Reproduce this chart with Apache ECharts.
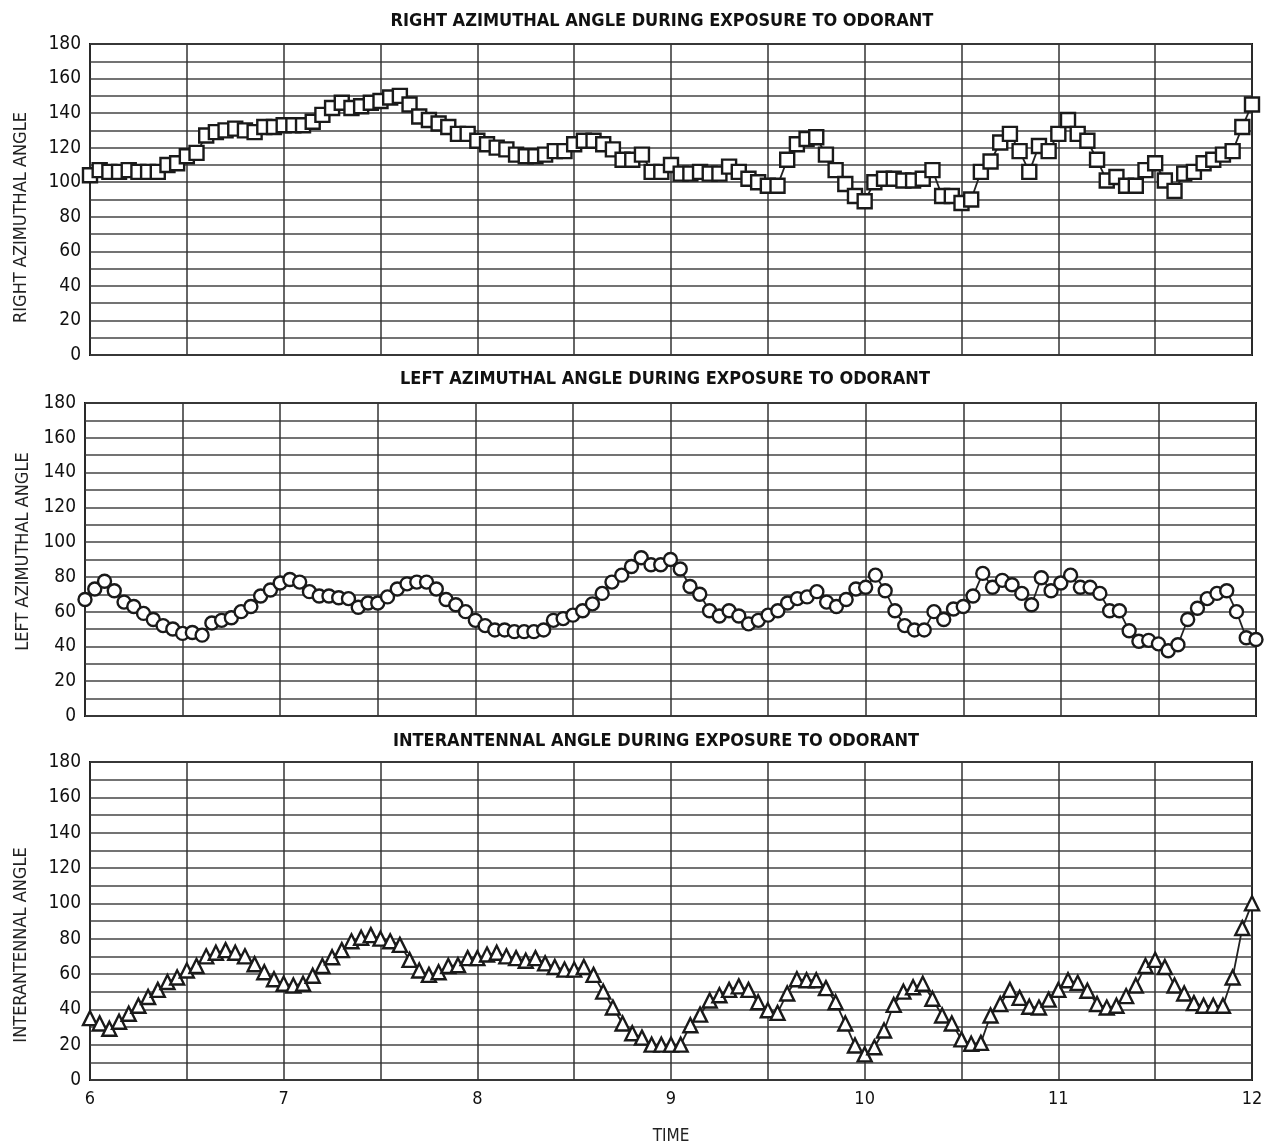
<!DOCTYPE html>
<html><head><meta charset="utf-8">
<script src="https://cdn.jsdelivr.net/npm/echarts@6/dist/echarts.min.js"></script>
<style>html,body{margin:0;padding:0;background:#fff}#c{width:1268px;height:1148px}</style>
</head><body><div id="c"></div><script>
const TIME_START = 6, TIME_STEP = 0.05;
const rightAzimuth = [
  104, 107, 106, 106, 107, 106, 106, 106, 110, 111,
  115, 117, 127, 129, 130, 131, 130, 129, 132, 132,
  133, 133, 133, 135, 139, 143, 146, 143, 144, 146,
  147, 149, 150, 145, 138, 136, 134, 132, 128, 128,
  124, 122, 120, 119, 116, 115, 115, 116, 118, 118,
  122, 124, 124, 122, 119, 113, 113, 116, 106, 106,
  110,
  105, 105, 106, 105, 105, 109, 106, 102, 100, 98,
  98, 113, 122, 125, 126, 116, 107, 99, 92, 89,
  100, 102, 102, 101, 101, 102, 107, 92, 92, 88,
  90, 106, 112, 123, 128, 118, 106, 121, 118, 128,
  136, 128, 124, 113, 101, 103, 98, 98, 107, 111,
  101, 95, 105, 106, 111, 113, 116, 118, 132, 145
];
const leftAzimuth = [
  67, 73, 77.5, 72, 65.5, 63, 59, 55.5, 52, 50,
  47.5, 48, 46.5, 53.5, 55, 56.5, 60, 63, 69, 72.5,
  76.5, 78.5, 77, 71.5, 69, 69, 68, 67.5, 62.5, 65,
  65, 68.5, 73, 76, 77, 77, 73, 67, 64, 60,
  55, 52, 49.5, 49.5, 48.5, 48.5, 48.5, 49.5, 55, 56,
  58, 60.5, 64.5, 70.5, 77, 81, 86, 91, 87, 87,
  90,
  84.5, 74.5, 70, 60.5, 57.5, 60.5, 57.5, 53, 55, 58,
  60.5, 65, 67.5, 68.5, 71.5, 65.5, 63, 67, 73, 74,
  81, 72, 60.5, 52, 49.5, 49.5, 60, 55.5, 61.5, 63,
  69, 82, 74, 78, 75.5, 70.5, 64, 79.5, 72, 76.5,
  81, 74, 74, 70.5, 60.5, 60.5, 49, 43, 43.5, 41.5,
  37.5, 41, 55.5, 62, 67.5, 70.5, 72, 60, 45, 44
];
const interantennal = [
  35, 32, 29, 33, 37.5, 42, 47, 51, 55.5, 58,
  62, 64.5, 70, 72, 73.5, 72, 70, 65.5, 61, 57,
  54.5, 53.5, 54.5, 59, 64.5, 69.5, 73.5, 78.5, 80.5, 82,
  80, 78.5, 76.5, 68, 62, 59.5, 61, 64.5, 65, 69,
  69, 71, 72, 70, 69, 67.5, 69, 66, 64, 62.5,
  62.5, 64, 59.5, 50, 41, 32, 26.5, 24, 20, 20,
  20,
  20, 31, 37, 45, 48, 51, 53, 51, 44, 39.5,
  38, 49, 57, 56.5, 56.5, 52, 44, 32, 19.5, 14.5,
  18.5, 28, 42.5, 50, 52.5, 54.5, 46, 36.5, 32, 23,
  20.5, 21, 36.5, 43, 51, 46.5, 41.5, 41, 45.5, 51,
  56.5, 55, 50.5, 43, 41, 42, 47.5, 53.5, 64.5, 68,
  64, 53.5, 49, 43.5, 42, 42, 42, 58, 86, 100
];
const titleTexts = [
  'RIGHT AZIMUTHAL ANGLE DURING EXPOSURE TO ODORANT',
  'LEFT AZIMUTHAL ANGLE DURING EXPOSURE TO ODORANT',
  'INTERANTENNAL ANGLE DURING EXPOSURE TO ODORANT'
];
const yAxisNames = ['RIGHT AZIMUTHAL ANGLE', 'LEFT AZIMUTHAL ANGLE', 'INTERANTENNAL ANGLE'];
const xAxisName = 'TIME';
const symbols = ['rect', 'circle', 'triangle'];
const Y_MIN = 0, Y_MAX = 180, Y_GRID = 10, Y_LABEL_STEP = 20;
const X_MIN = 6, X_MAX = 12, X_GRID = 0.5;

const FONT = '"Liberation Sans Narrow", "DejaVu Sans Condensed", "Liberation Sans", sans-serif';
const seriesValues = [rightAzimuth, leftAzimuth, interantennal];

const grids = [
  {left: 90, right: 16, top: 44, height: 311},
  {left: 85, right: 12, top: 403, height: 313},
  {left: 90, right: 16, top: 762, height: 318}
];
const titleTops = [7, 365, 727];
const titleCenters = [657, 660, 651];
const nameGaps = [60, 48, 60];
const namePads = [[0, 36, 0, 0], [0, 0, 0, 16], [0, 48, 0, 0]];
const symbolSizes = [14, 13, 14];

const chart = echarts.init(document.getElementById('c'), null, {renderer: 'canvas'});
const option = {
  backgroundColor: '#fff',
  animation: false,
  title: titleTexts.map((t, k) => ({
    text: t, left: titleCenters[k], textAlign: 'center', top: titleTops[k],
    textStyle: {fontFamily: FONT, fontSize: 18, fontWeight: 'bold', color: '#111'}
  })),
  grid: grids.map(g => Object.assign({show: true, borderColor: '#111', borderWidth: 2, backgroundColor: 'transparent'}, g)),
  xAxis: grids.map((g, k) => ({
    type: 'value', gridIndex: k, min: X_MIN, max: X_MAX, interval: X_GRID,
    axisLine: {show: false}, axisTick: {show: false},
    axisLabel: {
      show: k === 2, fontFamily: FONT, fontSize: 18, color: '#111', margin: 10,
      formatter: v => (Math.abs(v - Math.round(v)) < 1e-6 ? String(Math.round(v)) : '')
    },
    splitLine: {show: true, lineStyle: {color: '#333', width: 1.5}},
    name: k === 2 ? xAxisName : '', nameLocation: 'middle', nameGap: 48,
    nameTextStyle: {fontFamily: FONT, fontSize: 17, color: '#222'}
  })),
  yAxis: grids.map((g, k) => ({
    type: 'value', gridIndex: k, min: Y_MIN, max: Y_MAX, interval: Y_GRID,
    axisLine: {show: false}, axisTick: {show: false},
    axisLabel: {
      fontFamily: FONT, fontSize: 19, color: '#111', margin: 9,
      formatter: v => (v % Y_LABEL_STEP === 0 ? String(v) : '')
    },
    splitLine: {show: true, lineStyle: {color: '#444', width: 1.5}},
    name: yAxisNames[k], nameLocation: 'middle', nameRotate: 90, nameGap: nameGaps[k],
    nameTextStyle: {fontFamily: FONT, fontSize: 18, color: '#222', padding: namePads[k]}
  })),
  series: seriesValues.map((vals, k) => ({
    type: 'line', xAxisIndex: k, yAxisIndex: k,
    data: vals.map((v, i) => [+(TIME_START + i * TIME_STEP).toFixed(2), v]),
    symbol: symbols[k], symbolSize: symbolSizes[k], showAllSymbol: true,
    clip: true,
    lineStyle: {color: '#222', width: 1.8},
    itemStyle: {color: '#fff', borderColor: '#1a1a1a', borderWidth: 2.4},
    z: 3
  }))
};
chart.setOption(option);
</script></body></html>
